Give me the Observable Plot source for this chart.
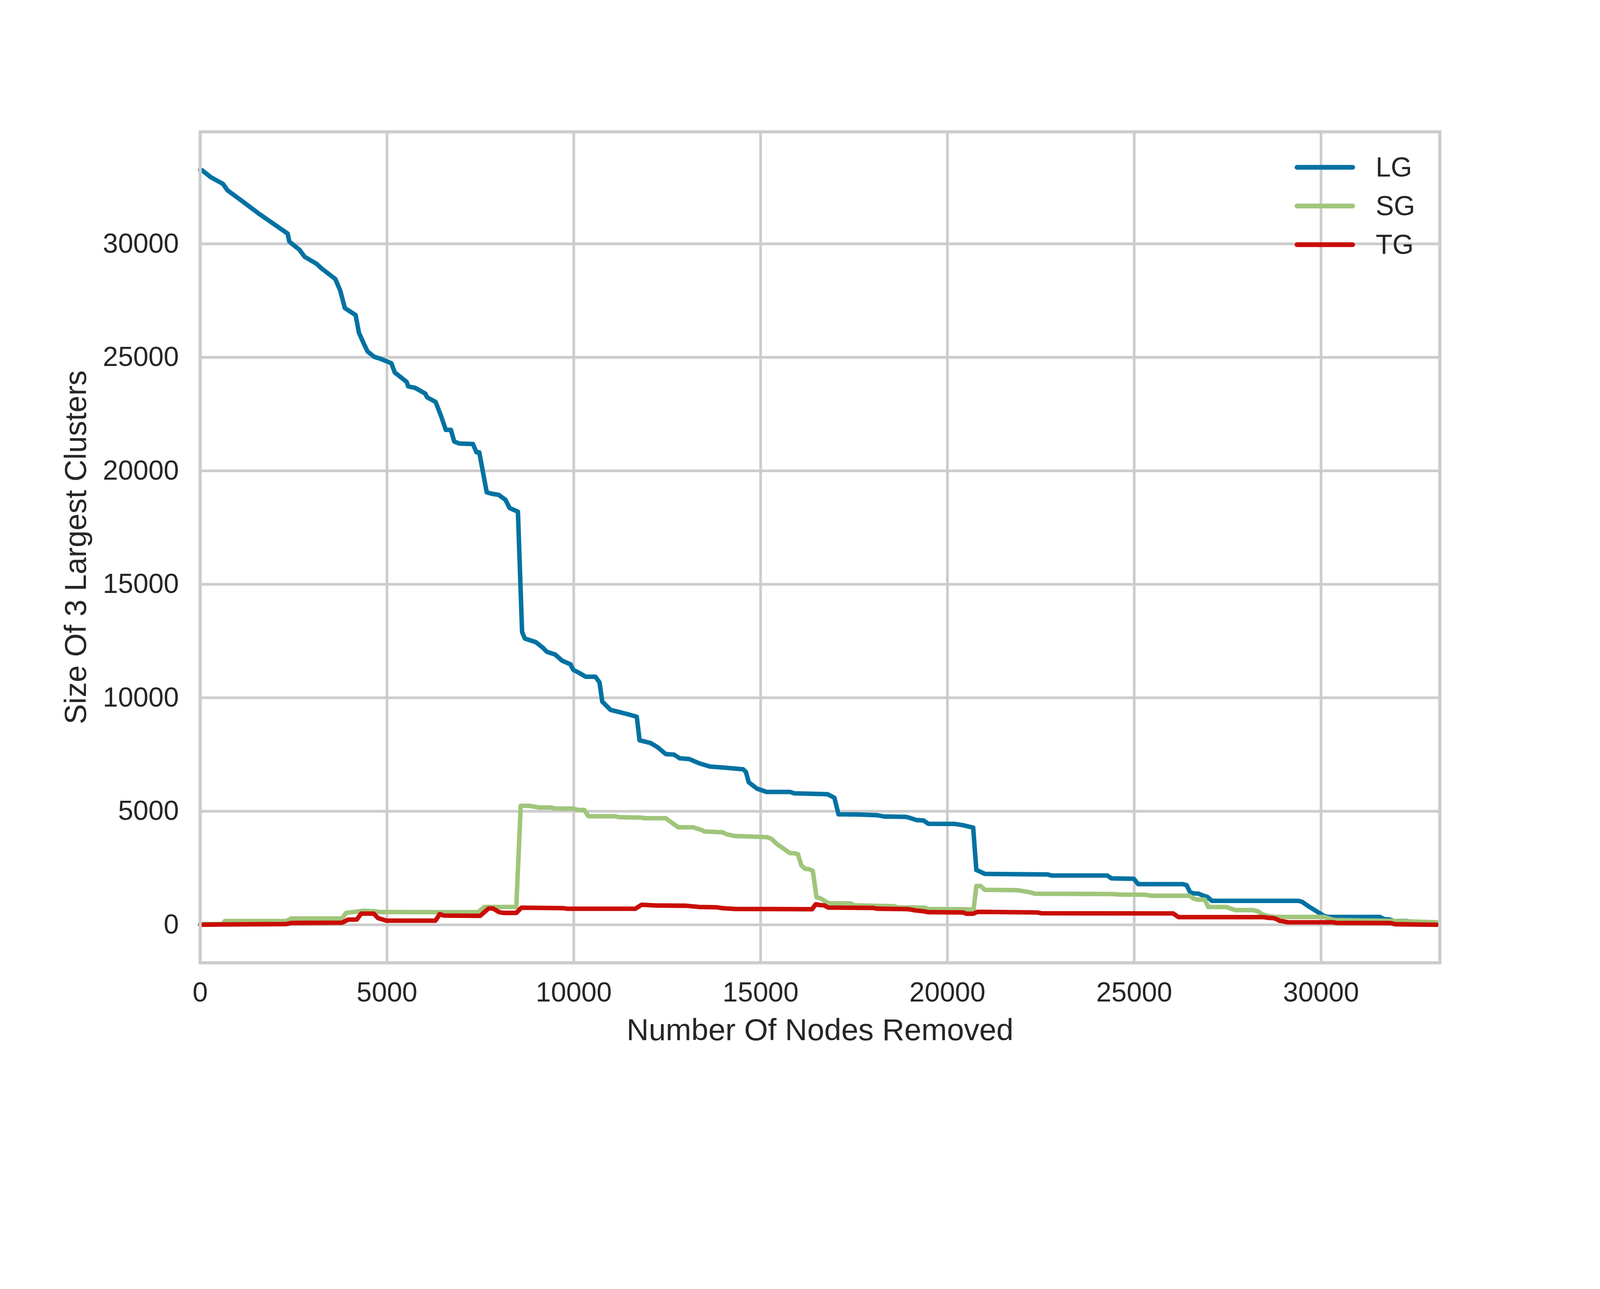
<!DOCTYPE html>
<html>
<head>
<meta charset="utf-8">
<script src="https://cdn.jsdelivr.net/npm/d3@7"></script>
<script src="https://cdn.jsdelivr.net/npm/@observablehq/plot@0.6"></script>
<style>
  html, body { margin: 0; padding: 0; background: #ffffff; }
  #chart svg { display: block; }
</style>
</head>
<body>
<div id="chart"></div>
<script>
// ---- Data ----
const seriesNames = ["LG", "SG", "TG"];
const seriesColors = ["#0272a2", "#a0c57b", "#c90d05"];

const xTicks = [0, 5000, 10000, 15000, 20000, 25000, 30000];
const yTicks = [0, 5000, 10000, 15000, 20000, 25000, 30000];

const lgX = [0, 45, 290, 610, 730, 1110, 1566, 1975, 2340, 2386, 2660, 2796, 3115, 3250, 3617, 3750, 3872, 4160, 4250, 4390, 4480, 4660, 4800, 5116, 5210, 5525, 5570, 5755, 6026, 6072, 6300, 6435, 6574, 6710, 6800, 6940, 7300, 7396, 7470, 7670, 7803, 7988, 8172, 8284, 8505, 8616, 8690, 8986, 9171, 9282, 9504, 9689, 9911, 9985, 10170, 10318, 10577, 10688, 10762, 10984, 11427, 11686, 11760, 12056, 12241, 12463, 12685, 12833, 13092, 13351, 13647, 13942, 14534, 14608, 14682, 14904, 15163, 15792, 15902, 16790, 16975, 17086, 17612, 18110, 18310, 18890, 18981, 19170, 19360, 19490, 20177, 20405, 20690, 20775, 20860, 21003, 22683, 22797, 24277, 24391, 24989, 25103, 26306, 26403, 26500, 26596, 26717, 26838, 26959, 27080, 29400, 29497, 29691, 29836, 30078, 30174, 31576, 31697, 31818, 31939, 32302, 32398, 33100];
const lgY = [33260, 33245, 32930, 32640, 32360, 31900, 31335, 30870, 30450, 30100, 29735, 29430, 29120, 28915, 28450, 27935, 27170, 26860, 26080, 25565, 25260, 25020, 24950, 24740, 24330, 23920, 23715, 23655, 23400, 23240, 23035, 22475, 21805, 21805, 21290, 21200, 21181, 20816, 20816, 19050, 18990, 18940, 18722, 18357, 18198, 12902, 12610, 12451, 12208, 12025, 11904, 11635, 11477, 11234, 11075, 10929, 10929, 10686, 9833, 9468, 9285, 9164, 8129, 8007, 7825, 7520, 7496, 7337, 7301, 7118, 6972, 6936, 6850, 6729, 6278, 5998, 5852, 5852, 5791, 5755, 5596, 4866, 4860, 4830, 4770, 4755, 4717, 4615, 4595, 4450, 4447, 4391, 4278, 2411, 2355, 2243, 2215, 2170, 2170, 2046, 2029, 1793, 1791, 1742, 1423, 1384, 1374, 1286, 1227, 1055, 1055, 1006, 786, 639, 393, 344, 344, 246, 237, 173, 163, 124, 100];

const sgX = [0, 600, 663, 2314, 2428, 3794, 3908, 4249, 4363, 4705, 4800, 6298, 7436, 7607, 8461, 8580, 8801, 9060, 9393, 9504, 9985, 10096, 10281, 10392, 11095, 11205, 11797, 11908, 12463, 12611, 12796, 13203, 13425, 13499, 13979, 14090, 14312, 15182, 15302, 15421, 15780, 15899, 15999, 16090, 16198, 16297, 16397, 16497, 16596, 16815, 17413, 17512, 18568, 18667, 19384, 19484, 20633, 20700, 20775, 20889, 21003, 21886, 22227, 22341, 24448, 24619, 25274, 25473, 26470, 26596, 26693, 26887, 26983, 27467, 27612, 27709, 28192, 28313, 28434, 28579, 28772, 30078, 30271, 30367, 31915, 33100];
const sgY = [30, 40, 164, 164, 275, 275, 524, 589, 620, 589, 560, 557, 557, 786, 786, 5243, 5243, 5170, 5170, 5121, 5121, 5060, 5060, 4780, 4780, 4744, 4720, 4695, 4695, 4512, 4293, 4293, 4172, 4110, 4074, 3989, 3910, 3862, 3774, 3578, 3161, 3151, 3112, 2622, 2460, 2450, 2376, 1214, 1175, 954, 940, 856, 817, 768, 758, 694, 680, 660, 1708, 1708, 1540, 1523, 1427, 1371, 1354, 1331, 1326, 1280, 1280, 1154, 1105, 1105, 786, 786, 697, 648, 648, 589, 452, 390, 344, 344, 246, 206, 173, 110];

const tgX = [0, 606, 2314, 2428, 3794, 3965, 4192, 4306, 4647, 4761, 4989, 6298, 6412, 6525, 7493, 7721, 7835, 8005, 8119, 8461, 8597, 9713, 9827, 11648, 11819, 12160, 13014, 13356, 13811, 13982, 14306, 16377, 16477, 16596, 16696, 16815, 18010, 18110, 18807, 18966, 19125, 19384, 19484, 20405, 20519, 20690, 20804, 20974, 22398, 22512, 26043, 26185, 28482, 28579, 28724, 28820, 28893, 28965, 29110, 30320, 30416, 31866, 31987, 33100];
const tgY = [0, 13, 33, 79, 92, 229, 229, 491, 491, 295, 183, 183, 472, 406, 393, 720, 720, 557, 524, 524, 753, 734, 707, 707, 884, 851, 838, 786, 773, 734, 700, 685, 905, 866, 856, 758, 743, 709, 694, 685, 636, 590, 555, 544, 488, 488, 567, 567, 544, 510, 499, 335, 335, 305, 295, 246, 173, 158, 109, 109, 84, 74, 25, 0];

const xLabel = "Number Of Nodes Removed";
const yLabel = "Size Of 3 Largest Clusters";

// ---- Build table ----
const seriesXY = [[lgX, lgY], [sgX, sgY], [tgX, tgY]];
const rows = [];
seriesXY.forEach(([xs, ys], i) => {
  xs.forEach((x, j) => rows.push({series: seriesNames[i], x, y: ys[j]}));
});

const W = 4800, H = 3300;
const mL = 600, mR = 481, mT = 395, mB = 412;
const lineW = 13.5;
const fontFam = "'Liberation Sans', Arial, sans-serif";

const chart = Plot.plot({
  width: W,
  height: H,
  marginLeft: mL,
  marginRight: mR,
  marginTop: mT,
  marginBottom: mB,
  style: {fontFamily: fontFam, color: "#262626", background: "#ffffff"},
  x: {domain: [0, 33180]},
  y: {domain: [-1674, 34934]},
  marks: [
    Plot.gridX(xTicks, {stroke: "#cccccc", strokeOpacity: 1, strokeWidth: 8}),
    Plot.gridY(yTicks, {stroke: "#cccccc", strokeOpacity: 1, strokeWidth: 8}),
    ...seriesNames.map((name, i) =>
      Plot.line(rows.filter(d => d.series === name), {
        x: "x", y: "y",
        stroke: seriesColors[i],
        strokeWidth: lineW,
        strokeLinecap: "round",
        strokeLinejoin: "round"
      })
    ),
    Plot.frame({stroke: "#cccccc", strokeWidth: 9.5}),
    Plot.axisX({ticks: xTicks, tickSize: 0, tickPadding: 58, fontSize: 82, tickFormat: d => String(d), label: null}),
    Plot.axisY({ticks: yTicks, tickSize: 0, tickPadding: 64, fontSize: 82, tickFormat: d => String(d), label: null}),
    Plot.text([xLabel], {frameAnchor: "bottom", dy: 232, lineAnchor: "bottom", textAnchor: "middle", fontSize: 92, fill: "#262626"}),
    Plot.text([yLabel], {frameAnchor: "left", dx: -343, rotate: -90, lineAnchor: "bottom", textAnchor: "middle", fontSize: 91, fill: "#262626"})
  ]
});

document.getElementById("chart").appendChild(chart);

// ---- Legend (upper right, inside the axes) ----
const svg = d3.select(chart);
const legend = svg.append("g").attr("class", "legend");
const legX0 = 3891, legX1 = 4058, legTextX = 4127;
const legY = [502, 618, 734];
seriesNames.forEach((name, i) => {
  legend.append("line")
    .attr("x1", legX0).attr("x2", legX1)
    .attr("y1", legY[i]).attr("y2", legY[i])
    .attr("stroke", seriesColors[i])
    .attr("stroke-width", 14.3)
    .attr("stroke-linecap", "round");
  legend.append("text")
    .attr("x", legTextX)
    .attr("y", legY[i] + 28)
    .attr("font-size", 82)
    .attr("text-anchor", "start")
    .attr("font-family", fontFam)
    .attr("fill", "#262626")
    .text(name);
});
</script>
</body>
</html>
